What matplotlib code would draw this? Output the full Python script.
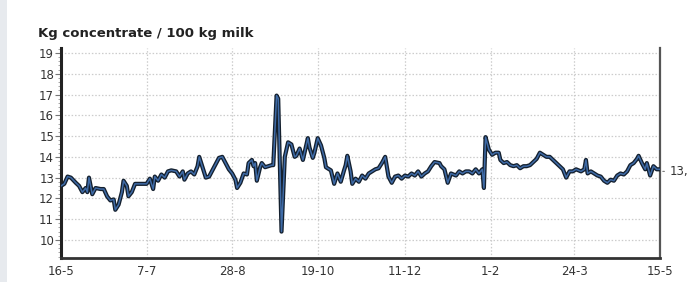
import matplotlib
matplotlib.use("Agg")
import matplotlib.pyplot as plt
import matplotlib.patches as patches
from matplotlib.ticker import MultipleLocator
import pandas as pd

# days since 16-5 and kg concentrate per 100 kg milk
days = [0, 2, 4, 6, 9, 11, 13, 15, 16, 17, 19, 21, 24, 26, 28, 30, 32, 33, 35, 37,
        38, 40, 41, 43, 45, 48, 52, 54, 56, 57, 59, 61, 63, 65, 67, 70, 72, 74, 75, 77,
        79, 81, 83, 84, 86, 88, 90, 93, 96, 98, 100, 102, 104, 106, 107, 109, 111, 113, 114, 116,
        117, 118, 119, 121, 122, 124, 126, 128, 129, 131, 132, 134, 136, 138, 140, 142, 143, 145, 147, 150,
        151, 153, 154, 156, 158, 160, 161, 164, 166, 168, 170, 172, 173, 174, 176, 177, 179, 181, 183, 185,
        187, 189, 191, 193, 195, 197, 199, 201, 203, 205, 207, 209, 211, 213, 215, 217, 219, 221, 223, 225,
        227, 230, 231, 233, 235, 237, 240, 242, 244, 246, 248, 250, 252, 254, 256, 257, 258, 260, 262, 264,
        266, 267, 269, 271, 273, 275, 277, 279, 281, 283, 285, 287, 289, 291, 293, 295, 297, 299, 301, 303,
        305, 307, 309, 311, 313, 316, 318, 319, 320, 322, 324, 326, 328, 330, 332, 334, 336, 338, 340, 342,
        344, 346, 348, 350, 351, 353, 355, 356, 358, 360, 362, 364]
values = [12.6, 12.7, 13.05, 13.0, 12.75, 12.6, 12.3, 12.5, 12.3, 13.0, 12.2, 12.5, 12.45, 12.45, 12.1, 11.9, 11.95, 11.45, 11.7, 12.3,
          12.85, 12.6, 12.1, 12.3, 12.7, 12.7, 12.7, 12.95, 12.45, 13.05, 12.85, 13.15, 13.0, 13.3, 13.35, 13.3, 13.05, 13.3, 12.9, 13.2,
          13.3, 13.15, 13.55, 14.0, 13.5, 13.0, 13.05, 13.5, 13.95, 14.0, 13.7, 13.4, 13.2, 12.9, 12.5, 12.75, 13.2, 13.15, 13.7, 13.85,
          13.55, 13.7, 12.85, 13.5, 13.7, 13.5, 13.55, 13.6, 13.6, 16.95, 16.8, 10.4, 14.0, 14.7, 14.6, 14.0, 14.05, 14.4, 13.85, 14.9,
          14.45, 13.95, 14.2, 14.9, 14.55, 13.95, 13.5, 13.35, 12.7, 13.2, 12.8, 13.35, 13.6, 14.05, 13.3, 12.7, 12.95, 12.8, 13.1, 12.95,
          13.2, 13.3, 13.4, 13.45, 13.7, 14.0, 13.05, 12.75, 13.05, 13.1, 12.95, 13.1, 13.05, 13.2, 13.1, 13.3, 13.05, 13.2, 13.3, 13.55,
          13.75, 13.7, 13.55, 13.4, 12.75, 13.2, 13.1, 13.3, 13.2, 13.3, 13.3, 13.2, 13.4, 13.2, 13.4, 12.5, 14.95, 14.35, 14.1, 14.2,
          14.2, 13.85, 13.7, 13.75, 13.6, 13.55, 13.6, 13.45, 13.55, 13.55, 13.6, 13.75, 13.9, 14.2, 14.1, 14.0, 14.0, 13.85, 13.7, 13.55,
          13.4, 13.0, 13.3, 13.3, 13.4, 13.3, 13.4, 13.85, 13.2, 13.3, 13.2, 13.1, 13.05, 12.85, 12.75, 12.9, 12.85, 13.1, 13.2, 13.15,
          13.3, 13.6, 13.7, 13.9, 14.05, 13.7, 13.4, 13.7, 13.1, 13.55, 13.4, 13.4]

start_date = "2010-05-16"
tick_dates = ["2010-05-16", "2010-07-07", "2010-08-28", "2010-10-19",
              "2010-12-11", "2011-02-01", "2011-03-24", "2011-05-15"]
tick_labels = ["16-5", "7-7", "28-8", "19-10", "11-12", "1-2", "24-3", "15-5"]
last_value = 13.3
last_label = "13,"
title = "Kg concentrate / 100 kg milk"

tick_days = [(pd.Timestamp(d) - pd.Timestamp(start_date)).days for d in tick_dates]

fig = plt.figure(figsize=(6.92, 2.82), dpi=100)
fig.patch.set_facecolor("white")
# grey strip on the far left
fig.patches.append(patches.Rectangle((0, 0), 7 / 692, 1, transform=fig.transFigure,
                                     facecolor="#e7eaee", edgecolor="none", zorder=0))

ax = fig.add_axes([61 / 692, 1 - 258 / 282, (660 - 61) / 692, (258 - 48) / 282])
ax.set_xlim(0, 364)
ax.set_ylim(9.13, 19.24)

ax.plot(days, values, color="#14202e", lw=3.0, solid_joinstyle="round", zorder=3)
ax.plot(days, values, color="#3e6aa6", lw=1.1, solid_joinstyle="round", zorder=4)

ax.set_xticks(tick_days)
ax.set_xticklabels(tick_labels)
ax.yaxis.set_major_locator(MultipleLocator(1))
ax.yaxis.set_minor_locator(MultipleLocator(0.2))
ax.set_yticks(range(10, 20))

ax.grid(True, which="major", color="#cccccc", linestyle=(0, (1.2, 1.5)), linewidth=0.9)
ax.set_axisbelow(True)

ax.spines["top"].set_visible(False)
ax.spines["left"].set_linewidth(2.2)
ax.spines["left"].set_color("#222222")
ax.spines["bottom"].set_linewidth(2.0)
ax.spines["bottom"].set_color("#333333")
ax.spines["right"].set_linewidth(1.6)
ax.spines["right"].set_color("#555555")

ax.tick_params(axis="y", which="major", length=4, width=0.8, color="#777777",
               labelsize=8.5, labelcolor="#333333", pad=1)
ax.tick_params(axis="y", which="minor", length=2, width=0.6, color="#999999")
ax.tick_params(axis="x", which="major", length=0, labelsize=8.5, labelcolor="#333333", pad=5)

# last value marker on the right
ax.annotate("", xy=(1.0, last_value), xytext=(1.012, last_value),
            xycoords=("axes fraction", "data"), textcoords=("axes fraction", "data"),
            arrowprops=dict(arrowstyle="-", color="#777777", lw=0.8))
ax.text(1.016, last_value, last_label, transform=ax.get_yaxis_transform(),
        ha="left", va="center", fontsize=8.5, color="#333333")

fig.text(38 / 692, 1 - 34 / 282, title, ha="left", va="center",
         fontsize=9.5, fontweight="bold", color="#222222")

fig.savefig("out.png", dpi=100)
